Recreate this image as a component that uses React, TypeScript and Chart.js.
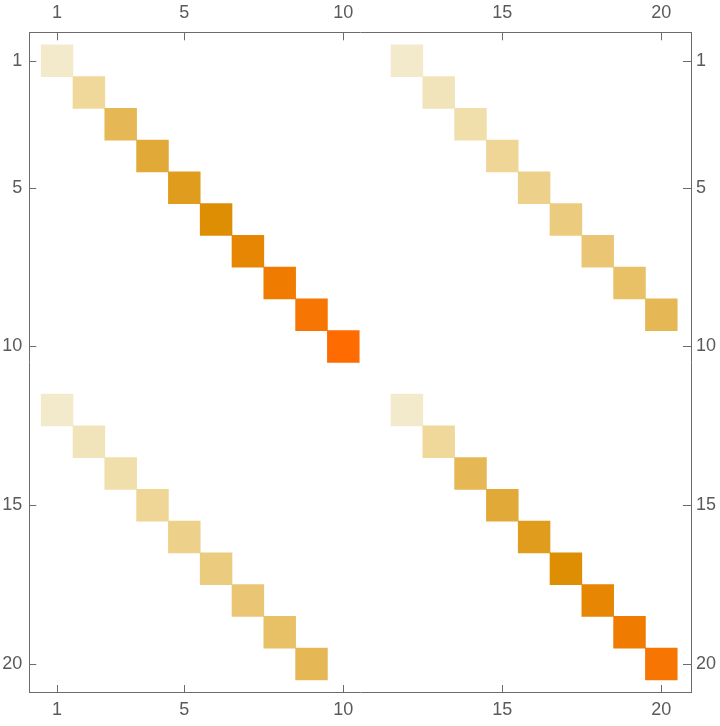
import { useEffect, useRef } from 'react';
import { Chart, registerables } from 'chart.js';

Chart.register(...registerables);

// Tick labels shown on all four sides
const tickValues = [1, 5, 10, 15, 20];

// Matrix values (20 x 20, zero elsewhere)
// upper-left block diagonal: cells (i, i), i = 1..10
const upperLeftDiag = [1, 2, 3, 4, 5, 6, 7, 8, 9, 10];
// lower-right block diagonal: cells (11+i, 11+i), i = 1..9
const lowerRightDiag = [1, 2, 3, 4, 5, 6, 7, 8, 9];
// upper-right band: cells (i, 11+i), i = 1..9
const upperRightBand = [1, 1.35, 1.65, 2.05, 2.25, 2.4, 2.55, 2.75, 3];
// lower-left band: cells (11+i, i), i = 1..9
const lowerLeftBand = [1, 1.35, 1.65, 2.05, 2.25, 2.4, 2.55, 2.75, 3];

// colour function stops (value -> colour)
const stopValues = [1, 2, 3, 4, 5, 6, 7, 8, 9, 10];
const stopColors = [
  '#F3EACB', '#EFD89A', '#E5B855', '#E1AA38', '#DF9C1D',
  '#DE8E02', '#E68603', '#EF7C00', '#F77502', '#FE6B00',
];

function hexToRgb(h: string) {
  const n = parseInt(h.slice(1), 16);
  return [(n >> 16) & 255, (n >> 8) & 255, n & 255];
}

function colorFor(v: number) {
  if (v <= stopValues[0]) return stopColors[0];
  for (let i = 0; i < stopValues.length - 1; i++) {
    const a = stopValues[i];
    const b = stopValues[i + 1];
    if (v <= b) {
      const t = (v - a) / (b - a);
      const ca = hexToRgb(stopColors[i]);
      const cb = hexToRgb(stopColors[i + 1]);
      const c = ca.map((x, k) => Math.round(x + (cb[k] - x) * t));
      return `rgb(${c[0]},${c[1]},${c[2]})`;
    }
  }
  return stopColors[stopColors.length - 1];
}

function block(values: number[], rowOffset: number, colOffset: number) {
  return {
    type: 'bar' as const,
    data: values.map((_, i) => {
      const r = i + 1 + rowOffset;
      return { x: i + 1 + colOffset, y: [r - 0.5, r + 0.5] };
    }),
    backgroundColor: values.map(colorFor),
    borderWidth: 0,
    borderSkipped: false as const,
    grouped: false,
    barPercentage: 1,
    categoryPercentage: 1,
  };
}

const LINE = '#6b6b6b';
const TEXT = '#5a5a5a';
const FONT = { family: '"Liberation Sans", Arial, sans-serif', size: 18 };

const innerTicks = {
  id: 'innerTicks',
  afterDraw(chart: any) {
    const { ctx, chartArea: a, scales } = chart;
    ctx.save();
    ctx.strokeStyle = LINE;
    ctx.lineWidth = 1;
    ctx.beginPath();
    for (const v of tickValues) {
      const xb = Math.round(scales.x.getPixelForValue(v)) + 0.5;
      ctx.moveTo(xb, a.bottom);
      ctx.lineTo(xb, a.bottom - 7);
      const xt = Math.round(scales.x2.getPixelForValue(v)) + 0.5;
      ctx.moveTo(xt, a.top);
      ctx.lineTo(xt, a.top + 8);
      const yl = Math.round(scales.y.getPixelForValue(v)) + 0.5;
      ctx.moveTo(a.left, yl);
      ctx.lineTo(a.left + 7, yl);
      const yr = Math.round(scales.y2.getPixelForValue(v)) + 0.5;
      ctx.moveTo(a.right, yr);
      ctx.lineTo(a.right - 8, yr);
    }
    ctx.stroke();
    ctx.restore();
  },
};

const X_MIN = 0.126;
const X_MAX = 20.933;
const Y_MIN = 0.106;
const Y_MAX = 20.88;

function axis(position: string, min: number, max: number, reverse: boolean, fit: (s: any) => void, padding: number) {
  return {
    type: 'linear' as const,
    position,
    min,
    max,
    reverse,
    offset: false,
    afterBuildTicks: (s: any) => {
      s.ticks = tickValues.map((v) => ({ value: v }));
    },
    afterFit: fit,
    grid: { display: true, drawOnChartArea: false, drawTicks: false, offset: false },
    border: { display: true, color: LINE, width: 1 },
    ticks: {
      color: TEXT,
      font: FONT,
      padding,
      autoSkip: false,
      maxRotation: 0,
      minRotation: 0,
      callback: (v: any) => String(v),
    },
  };
}

export default function App() {
  const ref = useRef<HTMLCanvasElement>(null);
  useEffect(() => {
    if (!ref.current) return;
    const chart = new Chart(ref.current, {
      type: 'bar',
      data: {
        datasets: [
          block(upperLeftDiag, 0, 0),
          block(upperRightBand, 0, 11),
          block(lowerLeftBand, 11, 0),
          block(lowerRightDiag, 11, 11),
        ] as any,
      },
      options: {
        animation: false,
        responsive: false,
        maintainAspectRatio: false,
        devicePixelRatio: 1,
        layout: { padding: 0 },
        plugins: { legend: { display: false }, tooltip: { enabled: false } },
        scales: {
          x: axis('bottom', X_MIN, X_MAX, false, (s: any) => { s.height = 34; }, 7),
          x2: axis('top', X_MIN, X_MAX, false, (s: any) => { s.height = 32.3; }, 8),
          y: axis('left', Y_MIN, Y_MAX, true, (s: any) => { s.width = 29.3; }, 7),
          y2: axis('right', Y_MIN, Y_MAX, true, (s: any) => { s.width = 29; }, 5),
        } as any,
      },
      plugins: [innerTicks],
    });
    return () => chart.destroy();
  }, []);
  return (
    <div style={{ position: 'fixed', left: 0, top: 0, width: 720, height: 726, background: '#fff' }}>
      <canvas ref={ref} width={720} height={726} style={{ width: 720, height: 726, display: 'block' }} />
    </div>
  );
}
